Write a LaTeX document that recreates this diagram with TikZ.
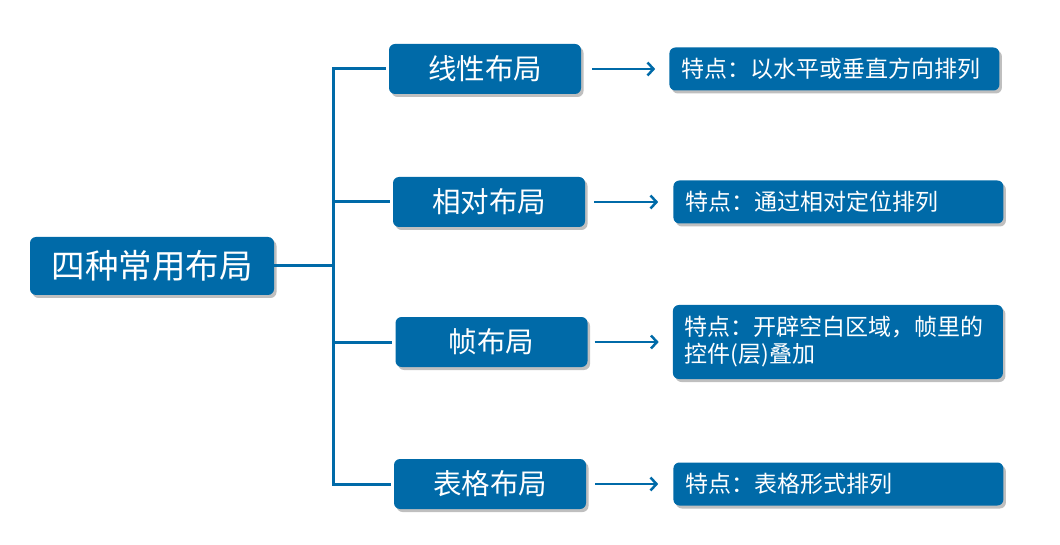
\documentclass[tikz,border=0pt]{standalone}
\usepackage{fontspec}
\newfontfamily\cjk{Noto Sans CJK SC}
\definecolor{BoxBlue}{HTML}{006AA8}
\usepackage{tikz}
\usetikzlibrary{arrows.meta,positioning,shadows}

\begin{document}
\begin{tikzpicture}[
  x=1pt,y=-1pt,
  every node/.style={font=\cjk,text=white},
  box/.style={fill=BoxBlue,rounded corners=6pt,inner sep=0pt,
    drop shadow={shadow xshift=2.5pt,shadow yshift=-3pt,fill=black,opacity=0.25}},
  root/.style={box,minimum width=244pt,minimum height=58pt,font=\cjk\fontsize{33.5}{40}\selectfont},
  kind/.style={box,minimum width=192pt,minimum height=50pt,font=\cjk\fontsize{28.5}{34}\selectfont},
  note/.style={box,minimum width=330pt,minimum height=43pt,text width=306pt,align=left,
    font=\cjk\fontsize{23}{27}\selectfont},
  tree/.style={draw=BoxBlue,line width=3pt},
  arr/.style={draw=BoxBlue,line width=2.5pt,-{Straight Barb[length=6pt,width=13pt]}}
]
\useasboundingbox (0,0) rectangle (1060,545);
\node[root] (all) at (152,266) {四种常用布局};
\node[kind] (lin) at (485,69) {线性布局};
\node[kind] (rel) at (489,202) {相对布局};
\node[kind] (frm) at (491.5,342) {帧布局};
\node[kind] (tab) at (490,484) {表格布局};
\node[note,right=88pt of lin] (linN) {特点：以水平或垂直方向排列};
\node[note,right=88pt of rel] (relN) {特点：通过相对定位排列};
\node[note,right=85pt of frm,minimum height=74pt] (frmN) {特点：开辟空白区域，帧里的\\控件(层)叠加};
\node[note,right=87pt of tab] (tabN) {特点：表格形式排列};
\coordinate (spine) at (333,0);
% tree
\draw[tree] ([xshift=-3pt]lin.west) -- (lin -| spine) -- (tab -| spine) -- ([xshift=-3pt]tab.west);
\draw[tree] (all.east) -- (all -| spine);
\draw[tree] (rel -| spine) -- ([xshift=-3pt]rel.west);
\draw[tree] (frm -| spine) -- ([xshift=-3pt]frm.west);
% arrows
\draw[arr] ([xshift=11pt]lin.east) -- ([xshift=-14pt]linN.west);
\draw[arr] ([xshift=9pt]rel.east) -- ([xshift=-15pt]relN.west);
\draw[arr] ([xshift=7pt]frm.east) -- ([xshift=-14pt]frmN.west);
\draw[arr] ([xshift=9pt]tab.east) -- ([xshift=-15pt]tabN.west);
\end{tikzpicture}
\end{document}
